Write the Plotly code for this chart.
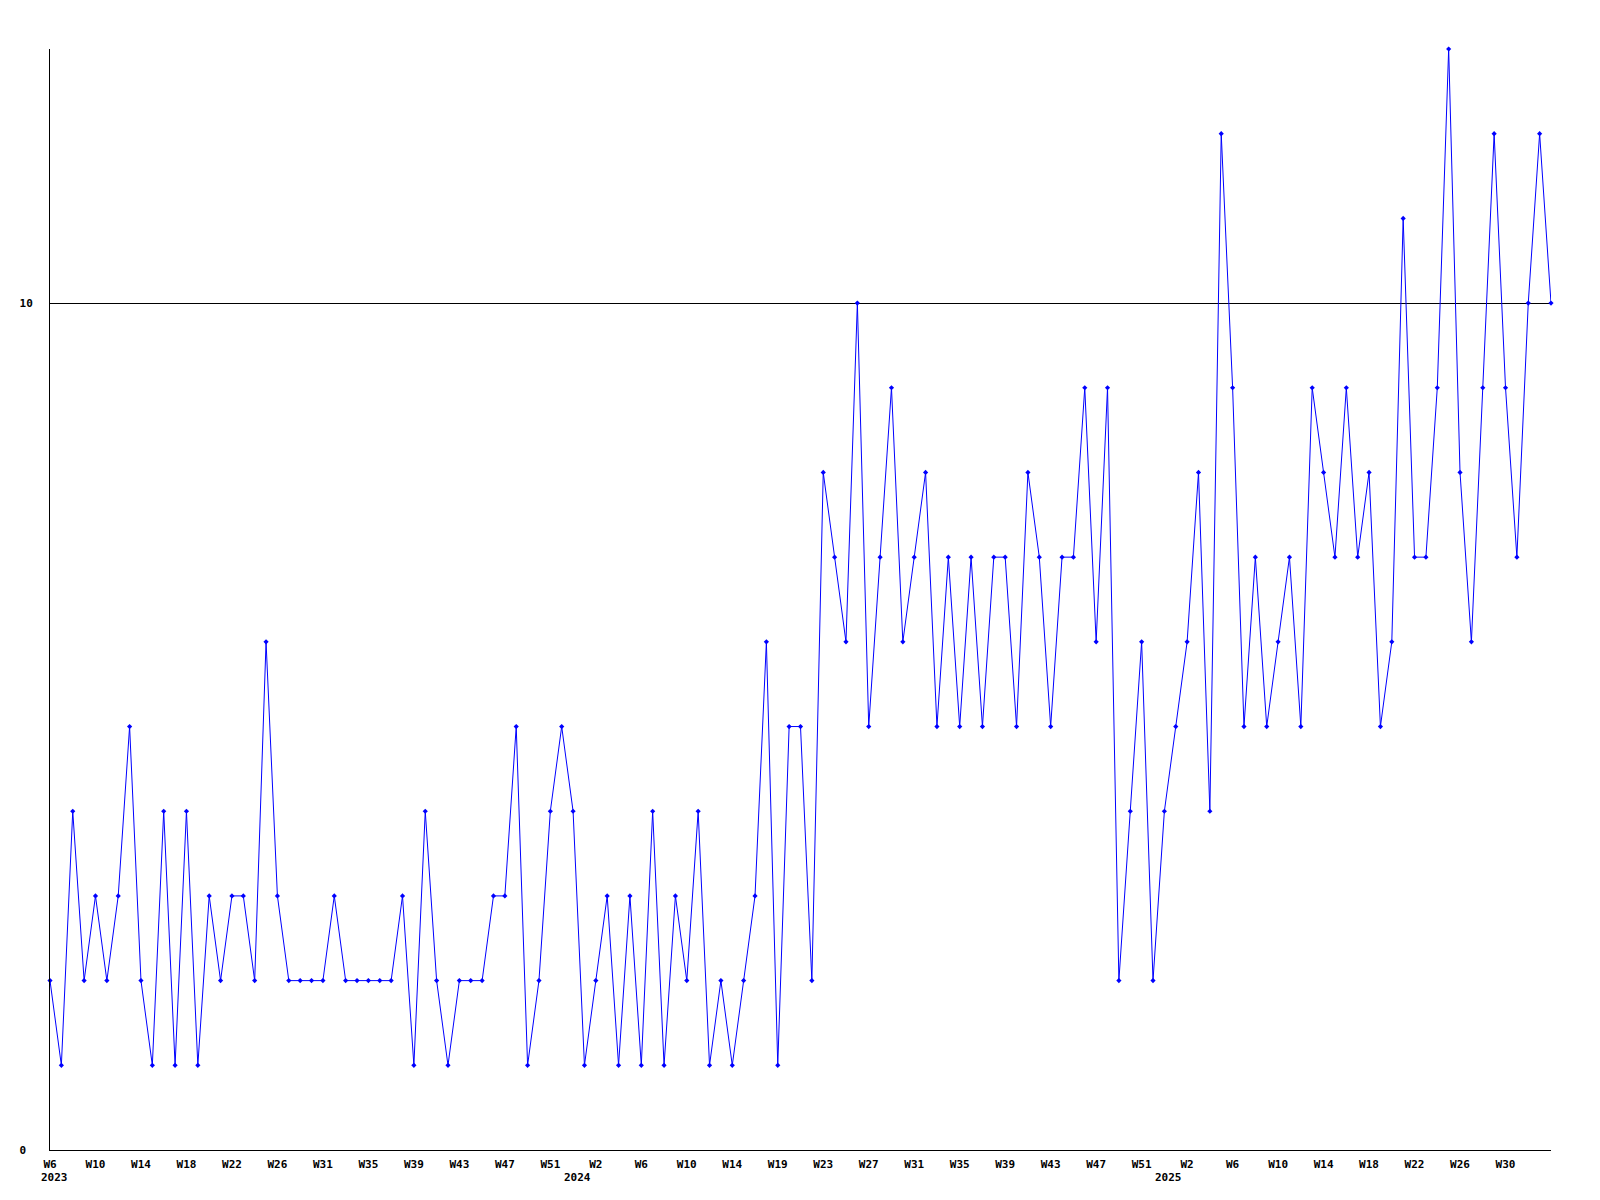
import datetime
import plotly.graph_objects as go

# Weekly counts, 2023-W06 .. 2025-W34
values = [
    2, 1, 4, 2, 3, 2, 3, 5, 2, 1, 4, 1, 4, 1, 3, 2, 3, 3, 2, 6,
    3, 2, 2, 2, 2, 3, 2, 2, 2, 2, 2, 3, 1, 4, 2, 1, 2, 2, 2, 3,
    3, 5, 1, 2, 4, 5, 4, 1, 2, 3, 1, 3, 1, 4, 1, 3, 2, 4, 1, 2,
    1, 2, 3, 6, 1, 5, 5, 2, 8, 7, 6, 10, 5, 7, 9, 6, 7, 8, 5, 7,
    5, 7, 5, 7, 7, 5, 8, 7, 5, 7, 7, 9, 6, 9, 2, 4, 6, 2, 4, 5,
    6, 8, 4, 12, 9, 5, 7, 5, 6, 7, 5, 9, 8, 7, 9, 7, 8, 5, 6, 11,
    7, 7, 9, 13, 8, 6, 9, 12, 9, 7, 10, 12, 10,
]

# Week categories (ISO weeks starting at 2023-W06)
start = datetime.date.fromisocalendar(2023, 6, 1)
weeks = []
for i in range(len(values)):
    y, w, _ = (start + datetime.timedelta(weeks=i)).isocalendar()
    weeks.append(f"{y}-W{w:02d}")

# X tick labels (one every 4 weeks)
tick_labels = [
    "W6", "W10", "W14", "W18", "W22", "W26", "W31", "W35", "W39", "W43", "W47",
    "W51", "W2", "W6", "W10", "W14", "W19", "W23", "W27", "W31", "W35", "W39",
    "W43", "W47", "W51", "W2", "W6", "W10", "W14", "W18", "W22", "W26", "W30",
]
year_labels = ["2023", "2024", "2025"]
year_anchor_weeks = ["2023-W06", "2023-W52", "2024-W52"]

y_tickvals = [0, 10]
y_ticktext = ["0\u00a0", "10"]

FONT = dict(family="DejaVu Sans Mono", size=11, color="black")

fig = go.Figure()
fig.add_trace(go.Scatter(
    x=weeks, y=values, mode="lines+markers",
    line=dict(color="#0000ff", width=1),
    marker=dict(symbol="diamond", size=4, color="#0000ff"),
    cliponaxis=False, showlegend=False,
))

for lab, wk in zip(year_labels, year_anchor_weeks):
    fig.add_annotation(
        x=wk, y=0, xref="x", yref="paper", text=f"<b>{lab}</b>",
        showarrow=False, xanchor="left", yanchor="middle",
        xshift=-11, yshift=-27, font=FONT,
    )

fig.update_layout(
    width=1600, height=1200,
    margin=dict(l=42, r=57, t=41, b=58),
    paper_bgcolor="white", plot_bgcolor="white",
    font=FONT,
)
fig.update_xaxes(
    type="category", range=[0, len(values) - 1],
    tickmode="array", tickvals=weeks[::4][:len(tick_labels)],
    ticktext=[f"<b>{t}</b>" for t in tick_labels],
    showgrid=False, zeroline=False, ticks="",
    showline=True, linecolor="black", linewidth=1,
    tickfont=FONT, ticklabelstandoff=4,
)
fig.update_yaxes(
    range=[0, 13], tickmode="array", tickvals=y_tickvals,
    ticktext=[f"<b>{t}</b>" for t in y_ticktext],
    showgrid=True, gridcolor="black", gridwidth=1, zeroline=False,
    ticks="", showline=True, linecolor="black", linewidth=1,
    tickfont=FONT, ticklabelstandoff=14,
)

fig.write_html("out.html")
